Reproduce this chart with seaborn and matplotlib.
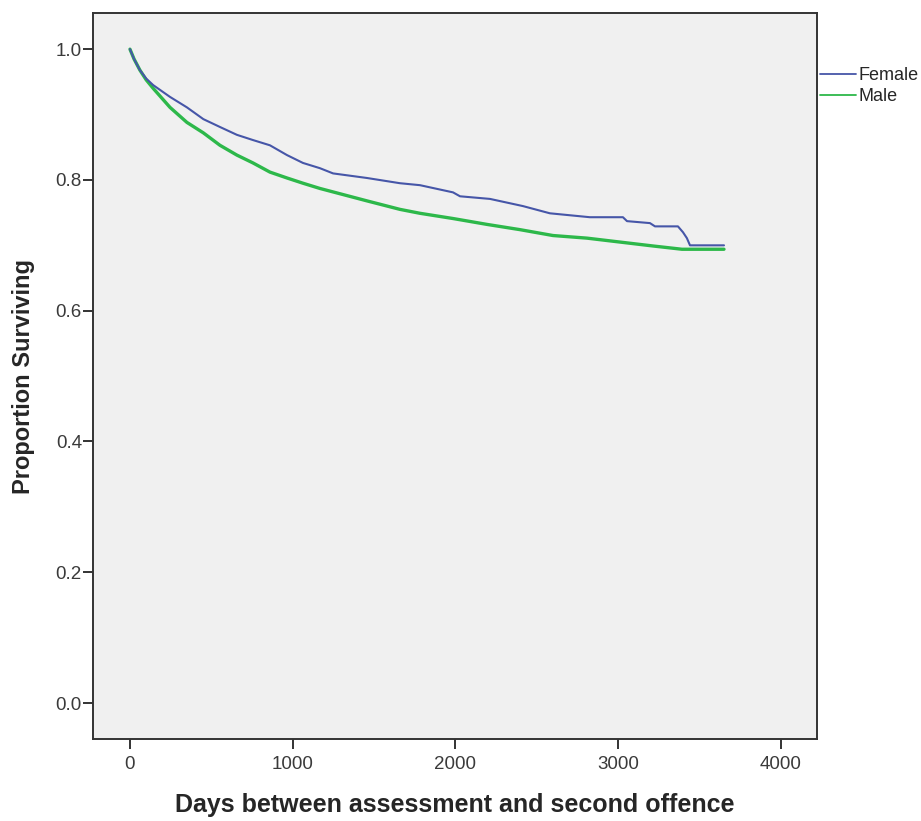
import matplotlib
matplotlib.use("Agg")
import matplotlib.pyplot as plt
import seaborn as sns
import pandas as pd

# Kaplan-Meier style survival estimates
female_days = [0, 25, 61, 100, 143, 246, 350, 451, 553, 657, 756, 860, 965, 1063, 1167,
               1248, 1456, 1659, 1782, 1985, 2028, 2212, 2415, 2580, 2826, 3029, 3054,
               3195, 3226, 3367, 3398, 3422, 3441, 3650]
female_surv = [1.0, 0.985, 0.968, 0.955, 0.945, 0.927, 0.911, 0.893, 0.881, 0.869, 0.861,
               0.853, 0.838, 0.826, 0.818, 0.810, 0.803, 0.795, 0.792, 0.781, 0.775, 0.771,
               0.760, 0.749, 0.743, 0.743, 0.737, 0.734, 0.729, 0.729, 0.720, 0.711, 0.700,
               0.700]

male_days = [0, 25, 61, 100, 143, 246, 350, 451, 553, 657, 756, 860, 965, 1063, 1167,
             1456, 1659, 1782, 1985, 2194, 2396, 2599, 2808, 3011, 3214, 3392, 3650]
male_surv = [1.0, 0.985, 0.968, 0.953, 0.940, 0.911, 0.888, 0.872, 0.853, 0.838, 0.826,
             0.812, 0.803, 0.795, 0.787, 0.768, 0.755, 0.749, 0.741, 0.732, 0.724, 0.715,
             0.711, 0.705, 0.699, 0.694, 0.694]

groups = ["Female", "Male"]
colors = {"Female": "#4656a8", "Male": "#2db84a"}
widths = {"Female": 1.5, "Male": 2.4}

df = pd.concat([
    pd.DataFrame({"Days": female_days, "Survival": female_surv, "Gender": "Female"}),
    pd.DataFrame({"Days": male_days, "Survival": male_surv, "Gender": "Male"}),
], ignore_index=True)

sns.set_style("white")
plt.rcParams["font.family"] = ["Liberation Sans", "DejaVu Sans"]

fig = plt.figure(figsize=(9.21, 8.21), dpi=100)
ax = fig.add_axes([0.101, 0.0999, 0.786, 0.884])
ax.set_facecolor("#f0f0f0")

# draw male first so the female line sits on top
for g in ["Male", "Female"]:
    sub = df[df["Gender"] == g]
    sns.lineplot(data=sub, x="Days", y="Survival", ax=ax, color=colors[g],
                 linewidth=widths[g], estimator=None, sort=False, label=g)

ax.set_xlim(-227, 4221)
ax.set_ylim(-0.055, 1.055)
ax.set_xticks([0, 1000, 2000, 3000, 4000])
ax.set_yticks([0.0, 0.2, 0.4, 0.6, 0.8, 1.0])
ax.set_yticklabels(["0.0", "0.2", "0.4", "0.6", "0.8", "1.0"])

for s in ax.spines.values():
    s.set_color("#333333")
    s.set_linewidth(1.4)
ax.tick_params(bottom=True, left=True, direction="out", length=7, width=1.4,
               color="#333333", labelsize=13.5, labelcolor="#3a3a3a")
ax.tick_params(axis="x", pad=5)
ax.tick_params(axis="y", pad=1)

ax.set_xlabel("Days between assessment and second offence", fontsize=18,
              fontweight="bold", labelpad=15)
ax.set_ylabel("Proportion Surviving", fontsize=17, fontweight="bold", labelpad=15)

handles, labels = ax.get_legend_handles_labels()
order = [labels.index(g) for g in groups]
leg = ax.legend([handles[i] for i in order], [labels[i] for i in order],
                loc="upper left", bbox_to_anchor=(1.004, 0.926), frameon=False,
                fontsize=13, handlelength=2.0, handletextpad=0.15, labelspacing=0.25,
                borderaxespad=0.0, borderpad=0.0)
for line in leg.get_lines():
    line.set_linewidth(1.3)

fig.savefig("out.png", dpi=100, facecolor="white")
